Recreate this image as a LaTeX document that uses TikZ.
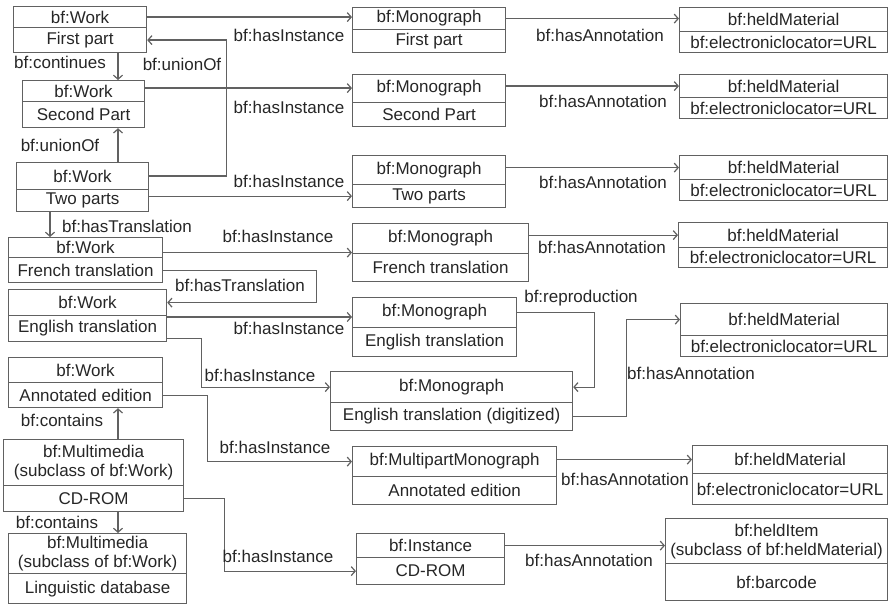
\documentclass[tikz,border=0pt]{standalone}
\usepackage{fontspec}
\setmainfont{Liberation Sans}
\usetikzlibrary{calc,arrows.meta}
\definecolor{trait}{gray}{0.38}
\definecolor{texte}{gray}{0.15}
\tikzstyle{cell} = [rectangle, draw=trait, line width=1.2pt, anchor=north west, inner sep=0pt, text centered, align=center, text=texte]
\tikzstyle{rel} = [draw=trait, line width=1.2pt, ->]
\tikzstyle{lbl} = [inner sep=0pt, text=texte]

\begin{document}
\begin{tikzpicture}[x=1pt, y=-1pt, font=\fontsize{17}{19}\selectfont, >={Straight Barb[length=4pt,width=9pt]}]
    \useasboundingbox (0,0) rectangle (888,604);

        % works
        \node (W1h) [cell, minimum width=133pt, minimum height=21pt] at (13,6) {bf:Work};
        \node (W1b) [cell, minimum width=133pt, minimum height=25pt] at (13,27) {First part};

        \node (W2h) [cell, minimum width=122pt, minimum height=21pt] at (22,80) {bf:Work};
        \node (W2b) [cell, minimum width=122pt, minimum height=26pt] at (22,101) {Second Part};

        \node (W3h) [cell, minimum width=132pt, minimum height=27pt] at (16,162) {bf:Work};
        \node (W3b) [cell, minimum width=132pt, minimum height=22pt] at (16,189) {Two parts};

        \node (W4h) [cell, minimum width=154pt, minimum height=20pt] at (8,237) {bf:Work};
        \node (W4b) [cell, minimum width=154pt, minimum height=25pt] at (8,257) {French translation};

        \node (W5h) [cell, minimum width=158pt, minimum height=26pt] at (8,289) {bf:Work};
        \node (W5b) [cell, minimum width=158pt, minimum height=26pt] at (8,315) {English translation};

        \node (W6h) [cell, minimum width=154pt, minimum height=25pt] at (8,357) {bf:Work};
        \node (W6b) [cell, minimum width=154pt, minimum height=25pt] at (8,382) {Annotated edition};

        \node (MM1h) [cell, minimum width=180pt, minimum height=46pt] at (3,439) {bf:Multimedia\\(subclass of bf:Work)};
        \node (MM1b) [cell, minimum width=180pt, minimum height=26pt] at (3,485) {CD-ROM};

        \node (MM2h) [cell, minimum width=178pt, minimum height=40pt] at (8,533) {bf:Multimedia\\(subclass of bf:Work)};
        \node (MM2b) [cell, minimum width=178pt, minimum height=30pt] at (8,573) {Linguistic database};

        % instances
        \node (M1h) [cell, minimum width=153pt, minimum height=22pt] at (352,7) {bf:Monograph};
        \node (M1b) [cell, minimum width=153pt, minimum height=23pt] at (352,29) {First part};

        \node (M2h) [cell, minimum width=153pt, minimum height=28pt] at (352,74) {bf:Monograph};
        \node (M2b) [cell, minimum width=153pt, minimum height=24pt] at (352,102) {Second Part};

        \node (M3h) [cell, minimum width=153pt, minimum height=29pt] at (352,155) {bf:Monograph};
        \node (M3b) [cell, minimum width=153pt, minimum height=23pt] at (352,184) {Two parts};

        \node (M4h) [cell, minimum width=176pt, minimum height=30pt] at (352,223) {bf:Monograph};
        \node (M4b) [cell, minimum width=176pt, minimum height=28pt] at (352,253) {French translation};

        \node (M5h) [cell, minimum width=164pt, minimum height=30pt] at (352,297) {bf:Monograph};
        \node (M5b) [cell, minimum width=164pt, minimum height=29pt] at (352,327) {English translation};

        \node (M6h) [cell, minimum width=242pt, minimum height=31pt] at (330,371) {bf:Monograph};
        \node (M6b) [cell, minimum width=242pt, minimum height=28pt] at (330,402) {English translation (digitized)};

        \node (M7h) [cell, minimum width=204pt, minimum height=30pt] at (352,446) {bf:MultipartMonograph};
        \node (M7b) [cell, minimum width=204pt, minimum height=28pt] at (352,476) {Annotated edition};

        \node (M8h) [cell, minimum width=148pt, minimum height=24pt] at (356,533) {bf:Instance};
        \node (M8b) [cell, minimum width=148pt, minimum height=27pt] at (356,557) {CD-ROM};

        % annotations
        \node (H1h) [cell, minimum width=208pt, minimum height=24pt] at (679,7) {bf:heldMaterial};
        \node (H1b) [cell, minimum width=208pt, minimum height=21pt] at (679,31) {bf:electroniclocator=URL};

        \node (H2h) [cell, minimum width=208pt, minimum height=23pt] at (679,74) {bf:heldMaterial};
        \node (H2b) [cell, minimum width=208pt, minimum height=21pt] at (679,97) {bf:electroniclocator=URL};

        \node (H3h) [cell, minimum width=208pt, minimum height=24pt] at (679,155) {bf:heldMaterial};
        \node (H3b) [cell, minimum width=208pt, minimum height=21pt] at (679,179) {bf:electroniclocator=URL};

        \node (H4h) [cell, minimum width=209pt, minimum height=25pt] at (678,222) {bf:heldMaterial};
        \node (H4b) [cell, minimum width=209pt, minimum height=20pt] at (678,247) {bf:electroniclocator=URL};

        \node (H5h) [cell, minimum width=207pt, minimum height=32pt] at (680,303) {bf:heldMaterial};
        \node (H5b) [cell, minimum width=207pt, minimum height=21pt] at (680,335) {bf:electroniclocator=URL};

        \node (H6h) [cell, minimum width=195pt, minimum height=28pt] at (692,445) {bf:heldMaterial};
        \node (H6b) [cell, minimum width=195pt, minimum height=31pt] at (692,473) {bf:electroniclocator=URL};

        \node (H7h) [cell, minimum width=222pt, minimum height=45pt] at (665,518) {bf:heldItem\\(subclass of bf:heldMaterial)};
        \node (H7b) [cell, minimum width=222pt, minimum height=37pt] at (665,563) {bf:barcode};

        % links between works
        \coordinate (vx) at (118,0);
        \coordinate (tx) at (50,0);

        \draw[rel] (W1b.south -| vx) -- (W2h.north -| vx);
        \node (c1) [lbl] at (60,62) {bf:continues};
        \draw[rel] (W3h.north -| vx) -- (W2b.south -| vx);
        \node (u1) [lbl] at (60,145) {bf:unionOf};
        \draw[rel] (W3h.east) -- ++(77,0) |- (W1b.east);
        \node (u2) [lbl] at (182,64) {bf:unionOf};
        \draw[rel] (W3b.south -| tx) -- (W4h.north -| tx);
        \node (t1) [lbl] at (127,226) {bf:hasTranslation};
        \draw[rel] (W4b.east) -- ++(153,0) |- (W5h.east);
        \node (t2) [lbl] at (240,285) {bf:hasTranslation};
        \draw[rel] (MM1h.north -| vx) -- (W6b.south -| vx);
        \node (k1) [lbl] at (62,420) {bf:contains};
        \draw[rel] (MM1b.south -| vx) -- (MM2h.north -| vx);
        \node (k2) [lbl] at (57,522) {bf:contains};

        % hasInstance
        \draw[rel] (W1h.east) -- (W1h.east -| M1h.west);
        \node (i1) [lbl] at (289,35) {bf:hasInstance};
        \draw[rel] ([yshift=3pt]W2h.east) -- ([yshift=3pt]W2h.east -| M2h.west);
        \node (i2) [lbl] at (289,107) {bf:hasInstance};
        \draw[rel] (M3b.west -| W3b.east) -- (M3b.west);
        \node (i3) [lbl] at (289,181) {bf:hasInstance};
        \draw[rel] ([yshift=-5pt]W4h.east) -- ([yshift=-5pt]W4h.east -| M4h.west);
        \node (i4) [lbl] at (278,236) {bf:hasInstance};
        \draw[rel] ([yshift=-2pt]W5b.north east) -- ([yshift=-2pt]W5b.north east -| M5h.west);
        \node (i5) [lbl] at (289,328) {bf:hasInstance};
        \draw[rel] ([yshift=4pt]W5b.south east) -- ++(34,0) |- (M6h.west);
        \node (i6) [lbl] at (260,375) {bf:hasInstance};
        \draw[rel] (W6b.east) -- ++(44,0) |- (M7h.west);
        \node (i7) [lbl] at (275,447) {bf:hasInstance};
        \draw[rel] (MM1b.east) -- ++(40,0) |- (M8b.west);
        \node (i8) [lbl] at (278,556) {bf:hasInstance};

        \draw[rel] (M5h.east) -- ++(77,0) |- (M6h.east);
        \node (r1) [lbl] at (581,298) {bf:reproduction};

        % hasAnnotation
        \draw[rel] (M1h.east) -- (M1h.east -| H1h.west);
        \node (a1) [lbl] at (600,35) {bf:hasAnnotation};
        \draw[rel] (H2h.west -| M2h.east) -- (H2h.west);
        \node (a2) [lbl] at (603,101) {bf:hasAnnotation};
        \draw[rel] (H3h.west -| M3h.east) -- (H3h.west);
        \node (a3) [lbl] at (603,182) {bf:hasAnnotation};
        \draw[rel] (H4h.west -| M4h.east) -- (H4h.west);
        \node (a4) [lbl] at (602,247) {bf:hasAnnotation};
        \draw[rel] (M6b.east) -- ++(53,0) |- (H5h.west);
        \node (a5) [lbl] at (691,373) {bf:hasAnnotation};
        \draw[rel] (H6h.west -| M7h.east) -- (H6h.west);
        \node (a6) [lbl] at (625,479) {bf:hasAnnotation};
        \draw[rel] (M8h.east) -- (M8h.east -| H7h.west);
        \node (a7) [lbl] at (589,560) {bf:hasAnnotation};

    \end{tikzpicture}
\end{document}
